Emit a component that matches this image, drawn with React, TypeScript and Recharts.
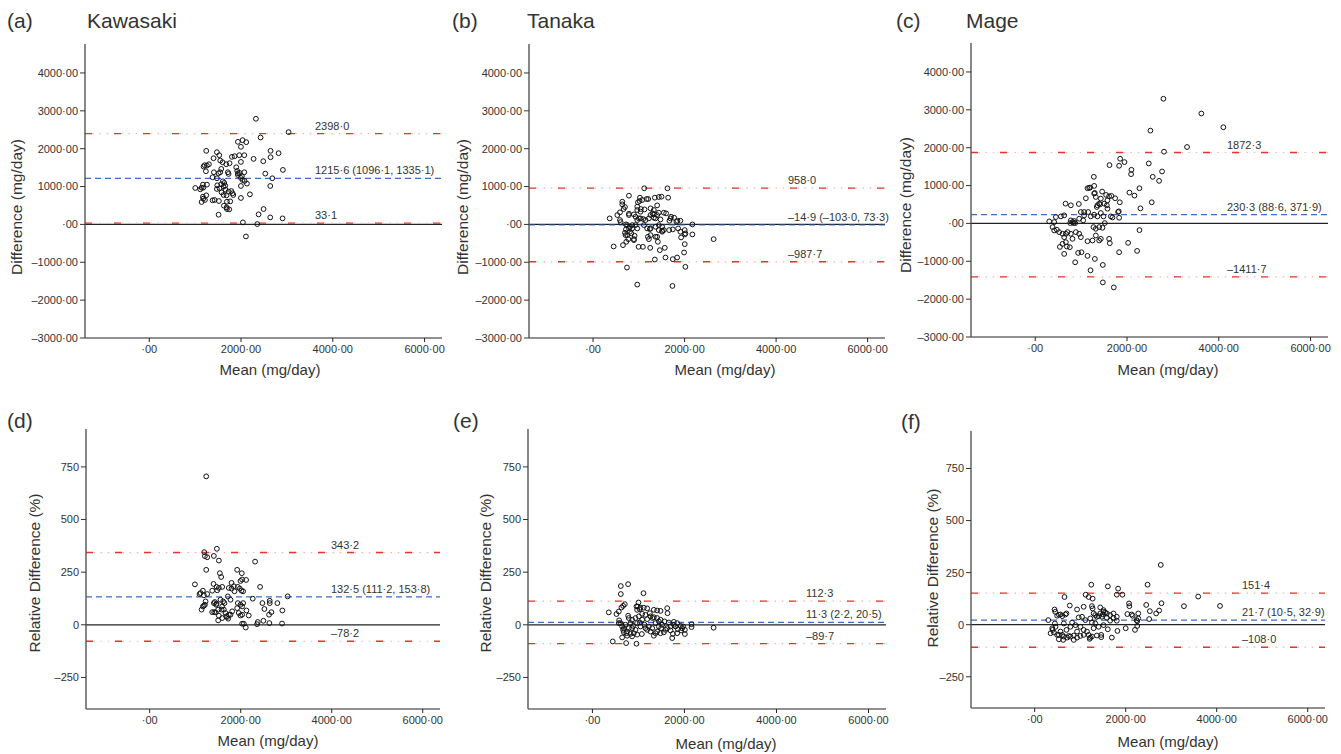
import React from "react";
import { ScatterChart, Scatter, XAxis, YAxis, ReferenceLine } from "recharts";

type Pt = [number, number];

const FONT = '"Liberation Sans", Arial, Helvetica, sans-serif';

// shared axes
const xTicks = [0, 2000, 4000, 6000];
const xDomain = [-1400, 6380];
const diffTicks = [-3000, -2000, -1000, 0, 1000, 2000, 3000, 4000];
const diffDomain = [-3000, 4765];
const relTicks = [-250, 0, 250, 500, 750];
const relDomain = [-400, 930];

// (a) Kawasaki, difference
const kawasakiDiff: Pt[] = [
  [2325, 2790], [3037, 2437], [2426, 2296], [1932, 2181], [2034, 2225], [2114, 2172], [1242, 1943], [1475, 1907],
  [1526, 1828], [1802, 1784], [1860, 1801], [1962, 1828], [1998, 2049], [2071, 1828], [1998, 1651], [2274, 1731],
  [2644, 1943], [2644, 1775], [2819, 1881], [2485, 1669], [1402, 1748], [1547, 1687], [1598, 1642], [1751, 1616],
  [1678, 1589], [1896, 1510], [2913, 1439], [1184, 1528], [1206, 1563], [1257, 1554], [1300, 1589], [1235, 1404],
  [1380, 1245], [1475, 1219], [1511, 1351], [1569, 1466], [1547, 1378], [1714, 1378], [1729, 1333], [1932, 1351],
  [1969, 1360], [2071, 1378], [1932, 1307], [1998, 1227], [2034, 1174], [2529, 1342], [2681, 1219], [1409, 1378],
  [1605, 1139], [1635, 1095], [1656, 1024], [1620, 998], [2129, 1077], [1482, 1033], [1475, 936], [1257, 1051],
  [1170, 1051], [1141, 971], [1177, 971], [1003, 962], [1112, 927], [1576, 848], [1663, 918], [1729, 865],
  [1787, 883], [1816, 821], [1831, 777], [1685, 768], [1998, 1015], [2637, 1015], [2194, 795], [1242, 768],
  [1177, 680], [1141, 592], [1213, 645], [1380, 636], [1424, 645], [1518, 618], [1765, 609], [1998, 698],
  [1627, 494], [1693, 406], [1744, 397], [1511, 256], [2492, 406], [2383, 265], [2637, 185], [2906, 159],
  [2041, 53], [2354, 9], [2107, -318], [2078, 1148], [1170, 733], [1685, 450], [1693, 600], [1620, 777],
  [1569, 1060], [1533, 954], [2020, 1272], [1918, 1413],
];

// (b) Tanaka, difference
const tanakaDiff: Pt[] = [
  [1118, 954], [1626, 954], [1641, 706], [784, 759], [1024, 706], [1016, 618], [1074, 645], [1169, 671],
  [1205, 671], [1350, 706], [1437, 724], [1496, 733], [639, 600], [639, 530], [697, 459], [668, 406],
  [530, 247], [588, 318], [363, 159], [588, 115], [603, 62], [784, 283], [966, 468], [966, 380],
  [1038, 336], [980, 583], [1045, 406], [1125, 397], [1256, 424], [1329, 380], [1300, 291], [1401, 503],
  [1546, 309], [1597, 291], [1437, 309], [784, 247], [893, 265], [1002, 159], [1096, 141], [1147, 115],
  [1256, 247], [1329, 265], [1365, 159], [1401, 247], [1706, 203], [1772, 177], [1670, 97], [1844, 97],
  [1909, 97], [929, 203], [966, 115], [1038, 159], [1220, 159], [1329, 177], [1474, 132], [1692, 159],
  [1822, 71], [2171, 0], [719, 0], [748, -18], [857, -18], [929, -18], [1111, -18], [1437, -18],
  [806, -62], [857, -106], [784, -106], [966, -106], [1183, -106], [1256, -106], [1365, -62], [1510, -62],
  [719, -132], [697, -221], [806, -194], [748, -283], [711, -283], [835, -238], [908, -300], [893, -389],
  [893, -415], [770, -389], [1241, -124], [1198, -327], [1220, -389], [1256, -283], [1365, -327], [1437, -150],
  [1401, -327], [1416, -459], [1510, -168], [1510, -194], [1546, -150], [1663, -150], [1742, -132], [1859, -106],
  [2004, -150], [2018, -238], [2004, -265], [1924, -344], [1909, -194], [2171, -265], [2004, -521], [2635, -389],
  [450, -583], [654, -547], [726, -459], [995, -592], [1089, -592], [1249, -618], [1459, -680], [1568, -618],
  [1989, -742], [1837, -874], [1742, -918], [1583, -874], [1350, -927], [2018, -1121], [741, -1139], [966, -1589],
  [1735, -1625],
];

// (c) Mage, difference
const mageDiff: Pt[] = [
  [2793, 3292], [3620, 2903], [4099, 2540], [3308, 2018], [2510, 2451], [2807, 1894], [2474, 1584], [2561, 1230],
  [2764, 1372], [2699, 1124], [2539, 558], [2292, 398], [2271, -177], [2220, -726], [2024, -513], [2271, 929],
  [2162, 735], [2053, 814], [2089, 1301], [2096, 1416], [1850, 1708], [1944, 1620], [1828, 1522], [1618, 1540],
  [1843, 558], [1821, 319], [1828, 150], [1828, -761], [1712, -1690], [1473, -1558], [1473, -1097], [1299, -938],
  [1205, -1239], [1139, -858], [1008, -761], [935, -779], [870, -1027], [631, -805], [537, -620], [1610, -407],
  [1625, -522], [1277, 1230], [1284, 991], [1284, 788], [1139, 929], [1197, 947], [1103, 664], [1458, 841],
  [1545, 752], [1661, 726], [1741, 664], [1683, 159], [660, 522], [776, 478], [950, 513], [1175, 938],
  [1610, 717], [1574, 611], [1429, 655], [1320, 699], [1298, 805], [1356, 478], [1393, 522], [1342, 434],
  [1415, 504], [1502, 522], [1560, 478], [1574, 389], [994, 301], [1066, 301], [1153, 301], [1066, 212],
  [958, 124], [1045, 80], [559, 186], [631, 212], [450, 168], [413, 35], [305, 53], [776, 80],
  [812, 35], [849, 62], [834, 9], [762, 9], [870, 9], [1211, 186], [1284, 230], [1356, 186],
  [1429, 274], [1487, 186], [1647, 186], [1806, 301], [1516, 9], [377, -97], [413, -186], [472, -168],
  [522, -230], [595, -274], [667, -274], [704, -230], [776, -274], [885, -230], [958, -274], [994, -363],
  [1269, -97], [1320, -142], [1393, -97], [1465, -115], [1320, -319], [1429, -407], [1393, -451], [631, -363],
  [667, -496], [595, -540], [689, -611], [754, -628], [1139, -469], [1248, -451], [812, -407],
];

// (d) Kawasaki, relative difference
const kawasakiRel: Pt[] = [
  [1242, 705], [1476, 361], [1198, 345], [1213, 326], [1264, 321], [1410, 327], [1520, 305], [2316, 300],
  [1242, 261], [1922, 261], [2024, 245], [1542, 245], [1571, 227], [2119, 213], [1403, 194], [994, 192],
  [1798, 199], [2426, 180], [1995, 208], [1118, 151], [1169, 162], [1264, 146], [1374, 162], [1483, 164],
  [1520, 175], [1593, 180], [1739, 175], [1849, 183], [1937, 180], [2053, 159], [2265, 124], [3032, 135],
  [2638, 114], [2638, 103], [2477, 103], [2806, 103], [2521, 75], [2674, 60], [2623, 48], [2915, 68],
  [1169, 87], [1213, 95], [1140, 72], [1374, 60], [1417, 60], [1505, 72], [1579, 72], [1556, 119],
  [1615, 111], [1644, 103], [1717, 135], [1776, 119], [1937, 103], [1995, 95], [2053, 103], [2126, 68],
  [2177, 44], [1995, 44], [1812, 64], [1776, 48], [1725, 29], [1681, 40], [1505, 21], [2031, 5],
  [2111, -13], [2360, 3], [2375, 13], [2499, 19], [2630, 8], [2908, 6], [1432, 108], [1469, 100],
  [2031, 215], [1096, 146], [1191, 140], [1469, 180], [1798, 172], [1863, 159], [1980, 172], [2017, 162],
  [1228, 111], [1191, 91], [1410, 103], [1461, 95], [1593, 87], [1629, 72], [1666, 56], [1922, 79],
  [2031, 87], [1958, 56], [2031, 48], [1447, 59], [1520, 43], [1593, 32], [1703, 37], [1739, 48],
  [2068, 5],
];

// (e) Tanaka, relative difference
const tanakaRel: Pt[] = [
  [776, 193], [617, 184], [617, 146], [1110, 150], [355, 59], [522, 51], [573, 63], [631, 82],
  [667, 90], [704, 98], [776, 43], [1001, 106], [986, 87], [972, 71], [1045, 82], [1117, 81],
  [1190, 78], [1335, 71], [1407, 68], [1480, 66], [1625, 79], [1632, 55], [580, 21], [573, 8],
  [442, -79], [733, -87], [957, -90], [646, -60], [1734, -63], [1748, -43], [1842, -40], [2009, -44],
  [2009, -24], [2154, -11], [2633, -14], [2154, 3], [1335, -52], [1074, -44], [972, -47], [899, -40],
  [827, -43], [754, -32], [682, -35], [682, -16], [718, 0], [790, -16], [863, -16], [936, -24],
  [1045, -8], [1132, 0], [1190, -24], [1262, -32], [1407, -32], [1480, -40], [1552, -36], [1625, -16],
  [1697, -8], [1770, 0], [1842, 8], [1915, -5], [1770, 14], [1567, 16], [1480, 24], [1407, 32],
  [1335, 36], [1262, 40], [1190, 27], [1081, 24], [1008, 40], [936, 32], [863, 24], [790, 32],
  [1248, 55], [1306, 32], [1371, 8], [1443, -8], [1516, 0], [1661, 11], [1806, -8], [1951, -16],
  [957, 87], [1030, 74], [609, 8], [646, -8], [667, -24], [740, -40], [827, 8], [885, -5],
  [972, 8], [1030, 11], [1153, -16], [1226, -8], [1299, -16], [1371, -40], [1443, 16], [1494, -16],
  [1589, -24], [1697, -27], [1857, -21], [1929, -27], [1973, -8], [754, -52], [863, -55], [1081, 52],
  [1153, 47],
];

// (f) Mage, relative difference
const mageRel: Pt[] = [
  [2771, 287], [2480, 192], [1244, 192], [1607, 184], [1833, 173], [1804, 144], [1927, 144], [1120, 144],
  [1186, 133], [1273, 125], [655, 133], [3593, 135], [3280, 89], [4073, 90], [2786, 103], [2451, 95],
  [2735, 68], [2669, 54], [2531, 65], [2516, 27], [2276, 54], [2240, 22], [2254, -6], [2204, -25],
  [2080, 89], [2073, 102], [2036, 51], [2153, 43], [2000, -17], [1818, -30], [1695, -62], [1607, -22],
  [1462, -49], [1462, -60], [1222, -62], [1186, -49], [1076, 86], [931, 73], [771, 92], [436, 73],
  [531, 48], [604, 41], [676, 49], [298, 22], [444, 6], [458, -10], [386, -17], [349, -41],
  [531, -70], [625, -73], [640, -57], [858, -73], [749, -54], [785, -10], [822, 10], [895, -2],
  [967, 35], [1040, 38], [1113, 22], [1004, -10], [1076, -25], [1149, -33], [1295, -17], [1331, 6],
  [1367, 38], [1440, 54], [1513, 62], [1585, 54], [1658, 46], [1731, 54], [1804, 38], [1804, 19],
  [1658, 19], [1513, -2], [1404, -10], [1258, 10], [1222, 30], [640, 6], [698, -25], [567, -33],
  [494, -49], [931, -33], [2131, 49], [2276, 30], [2254, 17], [1258, 89], [1273, 78], [1440, 83],
  [1513, 70], [1549, 59], [1731, 33], [451, 62], [494, 43], [567, 49], [698, 54], [1295, 54],
  [1331, 46], [1404, 41], [1476, 38], [1498, 49], [1585, 33], [393, -25], [422, -37], [531, -49],
  [604, -49], [713, -62], [785, -57], [858, -52], [931, -62], [1004, -54], [1076, -49], [1258, -57],
  [1367, -52], [1207, -68],
];

// limits of agreement: [upper, mean, lower], and CI of the mean
const kawasakiDiffLoa = [2398.0, 1215.6, 33.1];
const kawasakiDiffCi = [1096.1, 1335.1];
const tanakaDiffLoa = [958.0, -14.9, -987.7];
const tanakaDiffCi = [-103.0, 73.3];
const mageDiffLoa = [1872.3, 230.3, -1411.7];
const mageDiffCi = [88.6, 371.9];
const kawasakiRelLoa = [343.2, 132.5, -78.2];
const kawasakiRelCi = [111.2, 153.8];
const tanakaRelLoa = [112.3, 11.3, -89.7];
const tanakaRelCi = [2.2, 20.5];
const mageRelLoa = [151.4, 21.7, -108.0];
const mageRelCi = [10.5, 32.9];

const dash = (v: number) => (v < 0 ? "\u2013" : "");
const fmt2 = (v: number) =>
  dash(v) + Math.abs(v).toFixed(2).replace(/^0\./, ".").replace(".", "\u00b7");
const fmt1 = (v: number) => dash(v) + Math.abs(v).toFixed(1).replace(".", "\u00b7");
const fmtInt = (v: number) => dash(v) + Math.abs(v);

const Ring = (p: any) =>
  p.cx == null ? null : (
    <circle cx={p.cx} cy={p.cy} r={2.4} fill="none" stroke="#111" strokeWidth={1} />
  );

const lineLabel = (text: string, dx: number) => (props: any) => {
  const vb = props.viewBox || {};
  return (
    <text x={(vb.x || 0) + dx} y={(vb.y || 0) - 4} fontSize={11} fill="#333" fontFamily={FONT}>
      {text}
    </text>
  );
};

const yAxisTitle = (text: string, x: number, y: number) => () => (
  <text
    x={x}
    y={y}
    transform={`rotate(-90 ${x} ${y})`}
    textAnchor="middle"
    fontSize={15.5}
    fill="#333"
    fontFamily={FONT}
  >
    {text}
  </text>
);

const xAxisTitle = (x: number, y: number) => () => (
  <text x={x} y={y} textAnchor="middle" fontSize={15} fill="#333" fontFamily={FONT}>
    Mean (mg/day)
  </text>
);

interface PanelProps {
  data: Pt[];
  loa: number[];
  ci: number[];
  rel: boolean;
  left: number;
  top: number;
  width: number;
  height: number;
  mTop: number;
  mRight: number;
  yw: number;
  xh: number;
  labelDx: number;
  yLab: [number, number];
  xLab: [number, number];
}

const RED = "#e8322c";
const PINK = "#f6b4b0";

const Panel = (p: PanelProps) => {
  const rows = p.data.map(([x, y]) => ({ x, y }));
  const tickStyle = { fontSize: 11, fill: "#333", fontFamily: FONT };
  return (
    <div style={{ position: "absolute", left: p.left, top: p.top }}>
      <ScatterChart
        width={p.width}
        height={p.height}
        margin={{ top: p.mTop, right: p.mRight, bottom: 0, left: 0 }}
      >
        <XAxis
          type="number"
          dataKey="x"
          domain={xDomain}
          ticks={xTicks}
          interval={0}
          allowDataOverflow
          height={p.xh}
          tickFormatter={fmt2}
          tickSize={4}
          tickMargin={3}
          tick={tickStyle}
          axisLine={{ stroke: "#222" }}
          tickLine={{ stroke: "#222" }}
          label={xAxisTitle(p.xLab[0], p.xLab[1])}
        />
        <YAxis
          type="number"
          dataKey="y"
          domain={p.rel ? relDomain : diffDomain}
          ticks={p.rel ? relTicks : diffTicks}
          interval={0}
          allowDataOverflow
          width={p.yw}
          tickFormatter={p.rel ? fmtInt : fmt2}
          tickSize={5}
          tickMargin={2}
          tick={tickStyle}
          axisLine={{ stroke: "#555", strokeWidth: 1.4 }}
          tickLine={{ stroke: "#333" }}
          label={yAxisTitle(
            p.rel ? "Relative Difference (%)" : "Difference (mg/day)",
            p.yLab[0],
            p.yLab[1]
          )}
        />
        <ReferenceLine y={0} stroke="#222" strokeWidth={1.2} />
        <ReferenceLine
          y={p.loa[1]}
          stroke="#3d6cc7"
          strokeWidth={1.2}
          strokeDasharray="6 4"
          label={lineLabel(`${fmt1(p.loa[1])} (${fmt1(p.ci[0])}, ${fmt1(p.ci[1])})`, p.labelDx)}
        />
        <ReferenceLine y={p.loa[0]} stroke={PINK} strokeWidth={1.2} strokeDasharray="1.5 5.75" />
        <ReferenceLine
          y={p.loa[0]}
          stroke={RED}
          strokeWidth={1.4}
          strokeDasharray="7 22"
          label={lineLabel(fmt1(p.loa[0]), p.labelDx)}
        />
        <ReferenceLine y={p.loa[2]} stroke={PINK} strokeWidth={1.2} strokeDasharray="1.5 5.75" />
        <ReferenceLine
          y={p.loa[2]}
          stroke={RED}
          strokeWidth={1.4}
          strokeDasharray="7 22"
          label={lineLabel(fmt1(p.loa[2]), p.labelDx)}
        />
        <Scatter data={rows} shape={Ring} isAnimationActive={false} />
      </ScatterChart>
    </div>
  );
};

const titles: [string, number, number][] = [
  ["(a)", 7, 28],
  ["Kawasaki", 87, 28],
  ["(b)", 452, 28],
  ["Tanaka", 527, 28],
  ["(c)", 896, 28],
  ["Mage", 966, 28],
  ["(d)", 7, 428],
  ["(e)", 453, 428],
  ["(f)", 901, 429],
];

export default function App() {
  return (
    <div
      style={{
        position: "absolute",
        left: 0,
        top: 0,
        width: 1341,
        height: 754,
        background: "#fff",
        fontFamily: FONT,
      }}
    >
      <Panel data={kawasakiDiff} loa={kawasakiDiffLoa} ci={kawasakiDiffCi} rel={false}
        left={0} top={0} width={446} height={380} mTop={44} mRight={4} yw={85} xh={42}
        labelDx={230} yLab={[22, 207]} xLab={[270, 375]} />
      <Panel data={tanakaDiff} loa={tanakaDiffLoa} ci={tanakaDiffCi} rel={false}
        left={444} top={0} width={446} height={380} mTop={44} mRight={5} yw={85} xh={42}
        labelDx={259} yLab={[24, 207]} xLab={[281, 375]} />
      <Panel data={mageDiff} loa={mageDiffLoa} ci={mageDiffCi} rel={false}
        left={886} top={0} width={455} height={380} mTop={43} mRight={13} yw={85} xh={43}
        labelDx={256} yLab={[24.5, 205]} xLab={[282, 375]} />
      <Panel data={kawasakiRel} loa={kawasakiRelLoa} ci={kawasakiRelCi} rel
        left={0} top={380} width={446} height={374} mTop={49} mRight={6} yw={86} xh={45}
        labelDx={245} yLab={[39.5, 193]} xLab={[268, 366]} />
      <Panel data={tanakaRel} loa={tanakaRelLoa} ci={tanakaRelCi} rel
        left={444} top={380} width={446} height={374} mTop={49} mRight={4} yw={84} xh={45}
        labelDx={278} yLab={[47, 193]} xLab={[282, 369]} />
      <Panel data={mageRel} loa={mageRelLoa} ci={mageRelCi} rel
        left={886} top={380} width={455} height={374} mTop={51} mRight={16} yw={85} xh={46}
        labelDx={271} yLab={[51.5, 188]} xLab={[282, 367]} />
      <svg
        width={1341}
        height={754}
        style={{ position: "absolute", left: 0, top: 0, pointerEvents: "none" }}
      >
        {titles.map(([t, x, y]) => (
          <text key={t} x={x} y={y} fontSize={21} fill="#333" fontFamily={FONT}>
            {t}
          </text>
        ))}
      </svg>
    </div>
  );
}
